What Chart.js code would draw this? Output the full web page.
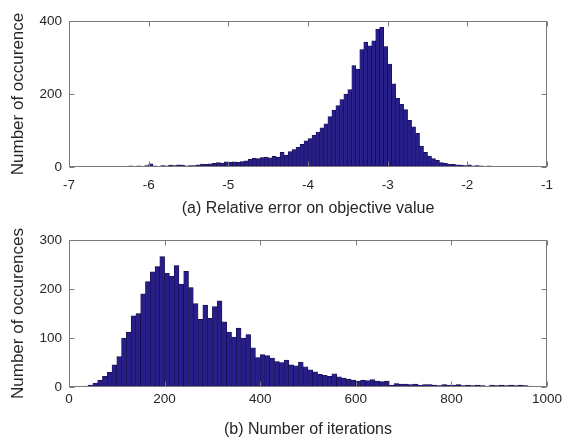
<!DOCTYPE html>
<html><head><meta charset="utf-8">
<script src="https://cdn.jsdelivr.net/npm/chart.js@4/dist/chart.umd.min.js"></script>
<style>
html,body{margin:0;padding:0;background:#fff;overflow:hidden;}
#wrap{position:relative;width:566px;height:437px;}
.box{position:absolute;left:0;width:566px;}
</style></head><body>
<div id="wrap">
<div class="box" style="top:0;height:218px"><canvas id="c1" width="566" height="218"></canvas></div>
<div class="box" style="top:218px;height:219px"><canvas id="c2" width="566" height="219"></canvas></div>
</div>
<script>
// ---- Data ----
// (a) log10 relative error histogram: bins of 0.05 starting at -6.70
const errBinStart = -6.70;
const errBinWidth = 0.05;
const errCounts = [
  2,1,2,1,0,1,1,2,1,3,
  2,3,2,4,9,3,2,4,3,5,
  4,6,5,3,4,4,6,8,7,9,
  10,12,11,14,13,14,13,15,17,21,
  24,23,26,27,25,29,27,40,33,42,
  48,54,62,72,78,87,96,107,118,138,
  155,168,185,200,212,278,268,322,342,332,
  346,378,383,330,282,228,188,172,157,128,
  110,92,57,40,30,23,18,12,10,8,
  7,6,5,4,6,3,4,3,2,3,
  2,2,1,2,1,2,1,1,2,1,
  1
];
const errTicks = [-7,-6,-5,-4,-3,-2,-1];
const errYTicks = [0,200,400];

// (b) number of iterations histogram: bins of 10 starting at 0
const iterBinStart = 0;
const iterBinWidth = 10;
const iterCounts = [
  0,0,1,2,4,8,14,22,30,45,
  62,100,112,145,150,190,215,235,246,266,
  232,226,248,210,236,203,170,138,167,140,
  164,176,133,112,102,120,100,107,80,60,
  66,64,59,52,50,55,45,43,51,41,
  35,31,26,24,22,27,21,18,16,14,
  12,14,13,15,12,11,12,4,7,6,
  6,5,6,4,5,5,4,3,5,4,
  4,5,3,4,3,4,3,2,4,3,
  4,3,4,3,4,3,2,1,0,0
];
const iterTicks = [0,200,400,600,800,1000];
const iterYTicks = [0,100,200,300];

const labels = {
  a: {x: '(a) Relative error on objective value', y: 'Number of occurence'},
  b: {x: '(b) Number of iterations', y: 'Number of occurences'}
};

// ---- Rendering ----
function binPoints(start, width, counts){
  return counts.map((c,i)=>({x: start + width*(i+0.5), y: c}));
}

const boxPlugin = {
  id: 'matlabBox',
  afterDraw(chart){
    const {ctx, chartArea:a, scales} = chart;
    const x = scales.x, y = scales.y;
    const L = Math.round(a.left)+0.5, R = Math.round(a.right)-0.5;
    const T = Math.round(a.top)+0.5, B = Math.round(a.bottom)-0.5;
    ctx.save();
    ctx.strokeStyle = '#7a7a7a';
    ctx.lineWidth = 1;
    ctx.strokeRect(L, T, R-L, B-T);
    const tl = 5;
    ctx.beginPath();
    x.ticks.forEach(t=>{
      const px = Math.round(x.getPixelForValue(t.value))+0.5;
      ctx.moveTo(px, B); ctx.lineTo(px, B-tl);
      ctx.moveTo(px, T); ctx.lineTo(px, T+tl);
    });
    y.ticks.forEach(t=>{
      const py = Math.round(y.getPixelForValue(t.value))+0.5;
      ctx.moveTo(L, py); ctx.lineTo(L+tl, py);
      ctx.moveTo(R, py); ctx.lineTo(R-tl, py);
    });
    ctx.stroke();
    ctx.restore();
  }
};

function makeChart(id, cfg){
  const tickFont = {family: '"Liberation Sans", Arial, Helvetica, sans-serif', size: 13.5};
  const titleFont = {family: '"Liberation Sans", Arial, Helvetica, sans-serif', size: 16, lineHeight: 1};
  return new Chart(document.getElementById(id), {
    type: 'bar',
    data: {
      datasets: [{
        data: binPoints(cfg.start, cfg.width, cfg.counts),
        backgroundColor: 'rgb(40,30,138)',
        borderColor: 'rgb(18,12,60)',
        borderWidth: 0.6,
        barPercentage: 1,
        categoryPercentage: 1
      }]
    },
    options: {
      responsive: false,
      animation: false,
      layout: {padding: {left: 0, right: 19, top: cfg.top, bottom: 0}},
      plugins: {legend: {display: false}, tooltip: {enabled: false}},
      scales: {
        x: {
          type: 'linear', min: cfg.xTicks[0], max: cfg.xTicks[cfg.xTicks.length-1],
          offset: false,
          grid: {display: false, drawTicks: false, offset: false},
          border: {display: false},
          afterBuildTicks(s){ s.ticks = cfg.xTicks.map(v=>({value:v})); },
          ticks: {color: '#262626', font: tickFont, padding: cfg.xTickPad, maxRotation: 0,
                  callback: v => String(v)},
          title: {display: true, text: cfg.xTitle, color: '#262626', font: titleFont,
                  padding: {top: 0, bottom: cfg.xTitlePad}},
          afterFit(s){ s.height = cfg.xHeight; }
        },
        y: {
          min: cfg.yTicks[0], max: cfg.yTicks[cfg.yTicks.length-1],
          grid: {display: false, drawTicks: false},
          border: {display: false},
          afterBuildTicks(s){ s.ticks = cfg.yTicks.map(v=>({value:v})); },
          ticks: {color: '#262626', font: tickFont, padding: 7, callback: v => String(v)},
          title: {display: true, text: cfg.yTitle, color: '#262626',
                  font: {family: titleFont.family, size: 17, lineHeight: 1},
                  padding: {top: 10, bottom: 0}},
          afterFit(s){ s.width = 69; }
        }
      }
    },
    plugins: [boxPlugin]
  });
}

makeChart('c1', {
  start: errBinStart, width: errBinWidth, counts: errCounts,
  xTicks: errTicks, yTicks: errYTicks,
  xTitle: labels.a.x, yTitle: labels.a.y,
  top: 21, xHeight: 51, xTickPad: 10, xTitlePad: 1
});
makeChart('c2', {
  start: iterBinStart, width: iterBinWidth, counts: iterCounts,
  xTicks: iterTicks, yTicks: iterYTicks,
  xTitle: labels.b.x, yTitle: labels.b.y,
  top: 22, xHeight: 50, xTickPad: 4, xTitlePad: -1
});
</script>
</body></html>
